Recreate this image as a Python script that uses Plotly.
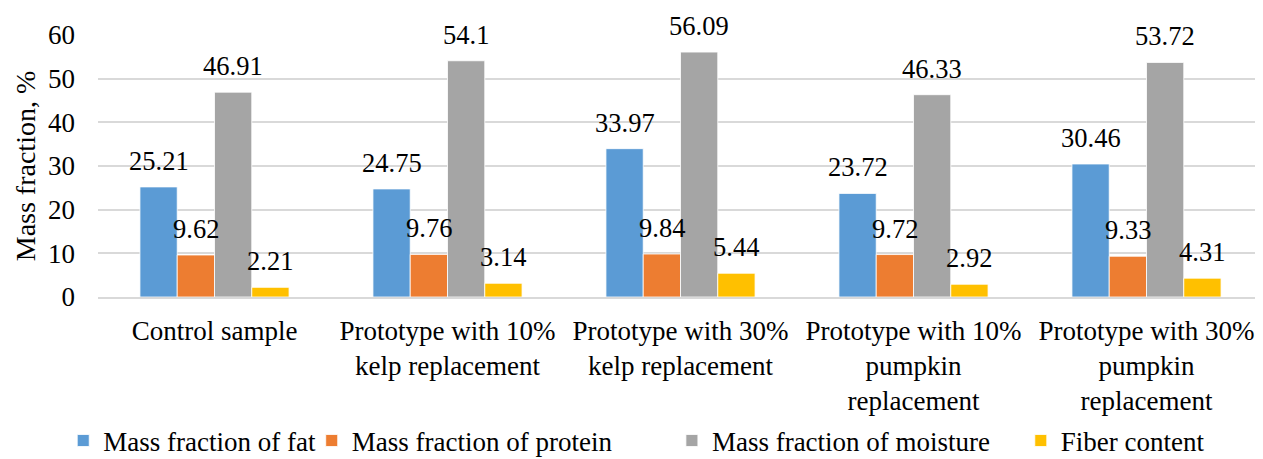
import plotly.graph_objects as go

categories = [
    "Control sample",
    "Prototype with 10%<br>kelp replacement",
    "Prototype with 30%<br>kelp replacement",
    "Prototype with 10%<br>pumpkin<br>replacement",
    "Prototype with 30%<br>pumpkin<br>replacement",
]
series_names = [
    "Mass fraction of fat",
    "Mass fraction of protein",
    "Mass fraction of moisture",
    "Fiber content",
]
fat = [25.21, 24.75, 33.97, 23.72, 30.46]
protein = [9.62, 9.76, 9.84, 9.72, 9.33]
moisture = [46.91, 54.1, 56.09, 46.33, 53.72]
fiber = [2.21, 3.14, 5.44, 2.92, 4.31]
y_ticks = [0, 10, 20, 30, 40, 50, 60]

series_values = [fat, protein, moisture, fiber]
colors = ["#5B9BD5", "#ED7D31", "#A5A5A5", "#FFC000"]
legend_x = [0.044, 0.242, 0.529, 0.807]
FONT = "Times New Roman"
bargap = 0.36

xs = list(range(len(categories)))
legend_ids = ["legend", "legend2", "legend3", "legend4"]
fig = go.Figure()
for name, vals, col, lid in zip(series_names, series_values, colors, legend_ids):
    fig.add_trace(go.Bar(
        x=xs, y=vals, name=name, legend=lid, showlegend=True,
        marker=dict(color=col, line=dict(color="white", width=0.8)),
    ))

n = len(series_values)
w = (1 - bargap) / n
for j, vals in enumerate(series_values):
    for i, v in enumerate(vals):
        fig.add_annotation(
            x=i + (j - (n - 1) / 2) * w, y=v, xref="x", yref="y",
            text=f"{v:g}", showarrow=False, yanchor="middle", yshift=26,
            font=dict(family=FONT, size=26.5, color="black"),
        )

legend_style = dict(
    orientation="h", xref="container", yref="container",
    y=0.04, yanchor="middle", xanchor="left",
    font=dict(family=FONT, size=27, color="black"),
    itemwidth=30, bgcolor="rgba(0,0,0,0)",
)
legends = {lid: dict(legend_style, x=lx) for lid, lx in zip(legend_ids, legend_x)}

# page body has an 8px default margin, so the figure is offset by 8px
fig.update_layout(
    barmode="group", bargap=bargap, bargroupgap=0,
    width=1255, height=451,
    margin=dict(l=90, r=0, t=27, b=162, autoexpand=False),
    paper_bgcolor="white", plot_bgcolor="white",
    font=dict(family=FONT, color="black"),
    showlegend=True,
    **legends,
)
fig.update_xaxes(
    tickmode="array", tickvals=xs, ticktext=categories,
    range=[-0.5, len(categories) - 0.5],
    tickfont=dict(family=FONT, size=27, color="black"),
    showline=True, linecolor="#D9D9D9", linewidth=1.5,
    ticks="", showgrid=False, ticklabelstandoff=9,
)
fig.update_yaxes(
    range=[0, 60], tickvals=y_ticks,
    tickfont=dict(family=FONT, size=27, color="black"),
    showgrid=True, gridcolor="#D9D9D9", gridwidth=1.5,
    zeroline=False, showline=False, ticks="", ticklabelstandoff=22,
    title=dict(text="Mass fraction, %", font=dict(family=FONT, size=28, color="black"), standoff=4),
)

fig.write_html("out.html")
